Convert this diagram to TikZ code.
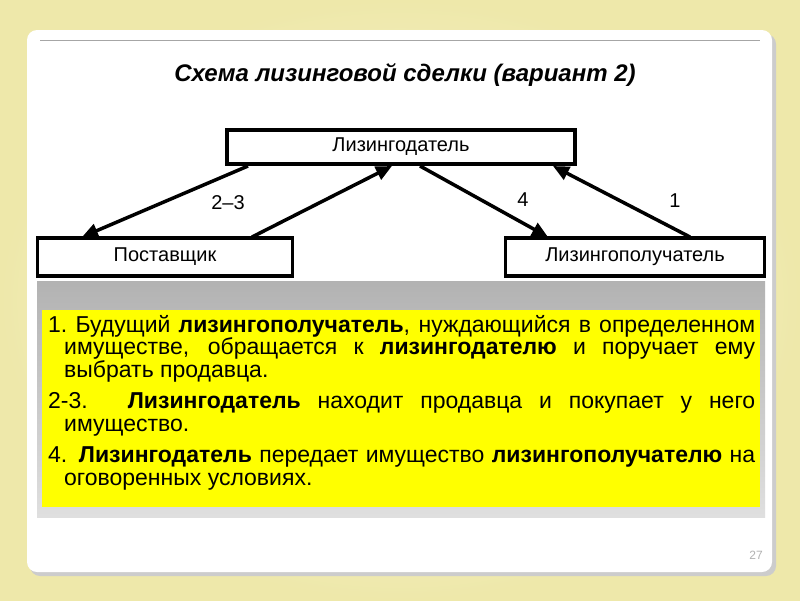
\documentclass[tikz,border=0pt]{standalone}
\usepackage{fontspec}
\setmainfont{Liberation Sans}
\usetikzlibrary{arrows.meta}
\definecolor{bgy}{RGB}{238,232,170}
\definecolor{yel}{RGB}{255,255,0}
\tikzset{box/.style={draw,line width=3.5pt,minimum height=34pt,font=\fontsize{20}{22}\selectfont,inner sep=0pt},
arr/.style={line width=3.5pt,-{Triangle[length=16pt,width=14pt]}},
lab/.style={font=\fontsize{20}{22}\selectfont}}
\begin{document}
\begin{tikzpicture}[x=1pt,y=-1pt]
\useasboundingbox (0,0) rectangle (800,600);
\shade[inner color=white!70!bgy,outer color=bgy] (0,0) rectangle (800,600);
\fill[gray!40,rounded corners=10pt] (30,34) rectangle (776,576);
\fill[white,rounded corners=10pt] (27,30) rectangle (772,572);
\draw[gray!70,line width=1pt] (40,40) -- (760,40);
\node (title) at (405,75) {\fontsize{24}{27}\selectfont\bfseries\itshape Схема лизинговой сделки (вариант 2)};
\node[box,minimum width=348pt] (top) at (401,147) {Лизингодатель};
\node[box,minimum width=255pt,minimum height=38pt] (left) at (165,257) {Поставщик};
\node[box,minimum width=259pt,minimum height=38pt] (right) at (635,257) {Лизингополучатель};
\coordinate (t1) at (248,166); \coordinate (l1) at (82,237);
\coordinate (l2) at (252,237); \coordinate (t2) at (392,166);
\coordinate (t3) at (420,166); \coordinate (r1) at (548,237);
\coordinate (r2) at (690,237); \coordinate (t4) at (553,166);
\draw[arr] (t1) -- (l1);
\draw[arr] (l2) -- (t2);
\draw[arr] (t3) -- (r1);
\draw[arr] (r2) -- (t4);
\node[lab] (a23) at (228,203) {2–3};
\node[lab] (a4) at (523,200) {4};
\node[lab] (a1) at (675,201) {1};
\shade[top color=gray!60,bottom color=gray!25] (37,281) rectangle (765,517);
\fill[yel] (42,310) rectangle (760,507);
\node[anchor=north west,inner sep=0pt] (txt) at (48,315) {\parbox{707pt}{\fontsize{23}{22.5}\selectfont
\hangindent=16pt\hangafter=1 1.~Будущий \textbf{лизингополучатель}, нуждающийся в определенном имуществе, обращается к \textbf{лизингодателю} и~поручает ему выбрать продавца.\par\vspace{9pt}
\hangindent=16pt\hangafter=1 2-3. \textbf{Лизингодатель} находит продавца и покупает у него имущество.\par\vspace{9pt}
\hangindent=16pt\hangafter=1 4. \textbf{Лизингодатель} передает имущество \textbf{лизингополучателю} на оговоренных условиях.\par}};
\node[text=gray!60,font=\fontsize{12}{14}\selectfont] (pg) at (756,555) {27};
\end{tikzpicture}
\end{document}
